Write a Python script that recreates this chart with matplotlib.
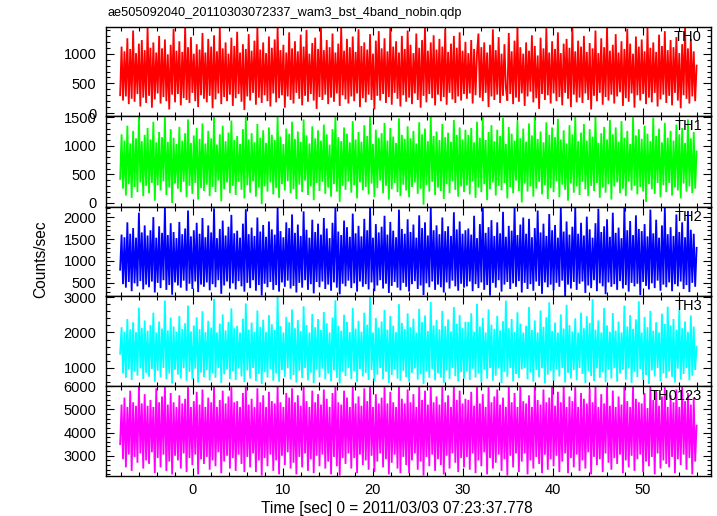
## light curves of the 4 WAM energy bands + their sum, one panel each
import numpy as np
import matplotlib
matplotlib.use('Agg')
import matplotlib.pyplot as plt
from matplotlib.ticker import MultipleLocator

plt.rcParams['font.family'] = ['Liberation Sans', 'DejaVu Sans']

title = 'ae505092040_20110303072337_wam3_bst_4band_nobin.qdp'
x_label = 'Time [sec] 0 = 2011/03/03 07:23:37.778'
y_label = 'Counts/sec'
t_start, t_stop = -8.1, 56.0   # first / last time bin (sec)

# counts/sec (troughs and peaks, in time order)
th0 = [300, 1120, 210, 1040, 280, 1260, 150, 1080, 240, 1390, 190, 1010, 320, 1170, 110, 1230, 260, 1060, 170, 1450,
       290, 1100, 90, 1190, 230, 1020, 330, 1300, 160, 1090, 270, 1240, 200, 990, 60, 1150, 310, 1420, 180, 1050,
       320, 1210, 130, 1030, 250, 1460, 220, 1110, 170, 1280, 340, 1000, 200, 1160, 100, 1070, 300, 1350, 240, 1020,
       180, 1250, 290, 1120, 80, 1310, 230, 1040, 330, 1440, 150, 1090, 270, 1190, 200, 1000, 310, 1270, 120, 1130,
       250, 1370, 320, 1020, 190, 1160, 50, 1080, 280, 1330, 210, 1050, 340, 1220, 140, 1450, 260, 1070, 170, 1190,
       300, 1010, 200, 1290, 110, 1100, 330, 1240, 180, 1460, 250, 1060, 300, 1150, 90, 1020, 280, 1360, 220, 1090,
       160, 1210, 340, 1040, 240, 1320, 130, 1120, 290, 1400, 190, 1000, 320, 1180, 210, 1270, 70, 1080, 270, 1440,
       220, 1060, 310, 1230, 150, 1110, 260, 1340, 190, 1020, 330, 1170, 120, 1450, 300, 1050, 230, 1250, 160, 1110,
       280, 1290, 200, 1030, 330, 1410, 100, 1130, 250, 1190, 180, 1070, 310, 1330, 220, 1000, 60, 1220, 290, 1380,
       210, 1090, 320, 1260, 170, 1040, 270, 1450, 140, 1120, 340, 1210, 240, 1020, 110, 1300, 300, 1080, 190, 1390,
       260, 1150, 150, 1010, 330, 1340, 220, 1100, 90, 1230, 290, 1460, 180, 1050, 320, 1190, 250, 1310, 130, 1070,
       310, 1250, 200, 1120, 270, 1420, 140, 1030, 340, 1170, 230, 1300, 170, 1100, 280, 1360, 210, 1050, 320, 1200,
       240, 1010, 330, 1230, 160, 1080, 300, 1000, 1340, 260, 1110, 200, 1190, 340, 1020, 100, 1150, 280, 1410, 220,
       1060, 310, 1280, 170, 1000, 290, 1160, 420, 210, 1350, 320, 1040, 150, 1220, 260, 1450, 190, 1110, 330, 1000,
       120, 1190, 280, 1050, 360, 1310, 180, 1130, 250, 970, 70, 1270, 320, 1090, 220, 1430, 300, 1020, 160, 1210,
       330, 1080, 200, 1360, 270, 1010, 130, 1170, 340, 1250, 240, 1100, 100, 1460, 310, 1040, 180, 1220, 260, 1120,
       170, 1300, 330, 1030, 220, 1180, 60, 1090, 290, 1390, 200, 1010, 340, 1260, 140, 1110, 270, 1450, 210, 1050,
       310, 1150, 160, 1330, 280, 1020, 350, 1210, 120, 1080, 250, 1420, 190, 1170, 330, 1000, 90, 1290, 300, 1120,
       210, 1240, 320, 1040, 150, 1440, 260, 1100, 180, 1190, 340, 1030, 110, 1320, 230, 1130, 310, 1380, 170, 1060,
       290, 1230, 130, 1110, 340, 1280, 210, 1010, 80, 1160, 300, 1440, 240, 1090, 160, 1250, 280, 1040, 200, 800]

th1 = [420, 1200, 250, 1090, 130, 1350, 330, 1040, 90, 1260, 280, 1130, 190, 1500, 360, 1080, 120, 1190, 300, 1310,
       170, 1110, 350, 1420, 40, 1060, 310, 1240, 220, 1150, 380, 1520, 140, 1070, 270, 1290, 0, 1140, 340, 1030,
       250, 1330, 190, 1090, 370, 1220, 100, 1460, 300, 1050, 160, 1180, 350, 1310, 60, 1120, 260, 1390, 210, 1040,
       320, 1260, 120, 1130, 280, 1500, 190, 1020, 390, 1200, 30, 1350, 240, 1080, 360, 1230, 170, 1440, 300, 1100,
       140, 1170, 370, 1030, 230, 1290, 80, 1510, 310, 1110, 180, 1220, 380, 1060, 110, 1380, 270, 1140, -20, 1270,
       290, 1050, 200, 1320, 360, 1190, 150, 1100, 260, 1520, 90, 1160, 330, 1030, 220, 1300, 380, 1210, 170, 1420,
       240, 1120, 70, 1250, 320, 1070, 190, 1460, 390, 1180, 140, 1040, 290, 1340, 50, 1130, 350, 1270, 210, 1090,
       370, 1370, 160, 1200, 270, 1020, 110, 1290, 330, 1510, 200, 1150, 20, 1080, 300, 1320, 230, 1210, 380, 1060,
       180, 1430, 310, 1110, 80, 1240, 360, 1070, 220, 1360, 280, 1170, 150, 1520, 340, 1030, 100, 1280, 260, 1140,
       390, 1220, 170, 1400, 300, 1090, 60, 1310, 240, 1160, 350, 1050, 190, 1480, 120, 1190, 320, 1120, 220, 1340,
       100, 1130, 280, 1260, 360, 1040, 160, 1410, 250, 1200, -30, 1300, 310, 1080, 200, 1520, 370, 1170, 140, 1250,
       270, 1100, 210, 1380, 70, 1150, 330, 1230, 170, 1070, 380, 1450, 230, 1190, 110, 1320, 290, 1110, 190, 1280,
       310, 1190, 150, 1310, 380, 1060, 90, 1420, 270, 1140, 190, 1500, 330, 1100, 50, 1240, 240, 1360, 360, 1080,
       130, 1280, 300, 1170, 220, 1490, 350, 1030, 80, 1330, 280, 1210, 170, 1090, 390, 1440, 210, 1130, 10, 1300,
       340, 1070, 200, 1390, 290, 1180, 110, 1520, 250, 1120, 370, 1250, 150, 1060, 310, 1410, 70, 1190, 260, 1320,
       190, 1150, 380, 1470, 100, 1110, 320, 1270, 230, 1040, 40, 1360, 340, 1200, 180, 1510, 290, 1080, 140, 1230,
       370, 1380, 240, 1090, 120, 1290, 300, 1160, 210, 1520, 350, 1050, 90, 1220, 270, 1330, 180, 1110, 330, 1450,
       60, 1200, 290, 1320, 360, 1070, 170, 1430, 250, 1140, 120, 1260, 380, 1030, 220, 1500, 300, 1180, 150, 1290,
       280, 1120, 200, 1350, 20, 1210, 330, 1080, 240, 1490, 160, 1170, 350, 1300, 100, 1060, 310, 1400, 190, 1140,
       350, 1260, 130, 1090, 270, 1370, 220, 1200, 80, 1310, 340, 1050, 200, 1460, 290, 1130, 170, 1240, 250, 900]

th2 = [800, 1600, 470, 1540, 390, 1880, 520, 1620, 310, 1750, 490, 1530, 420, 2100, 540, 1650, 350, 1810, 460, 1580,
       400, 1700, 530, 2000, 280, 1530, 500, 1790, 380, 1640, 560, 2230, 340, 1590, 450, 1860, 230, 1660, 510, 1520,
       440, 1890, 390, 1610, 550, 1740, 320, 2150, 480, 1560, 360, 1700, 530, 1870, 290, 1620, 460, 1980, 410, 1540,
       510, 1810, 330, 1650, 470, 2200, 400, 1520, 560, 1730, 250, 1920, 440, 1580, 530, 1780, 370, 2050, 490, 1630,
       350, 1690, 540, 1530, 420, 1850, 300, 2180, 500, 1610, 380, 1760, 560, 1570, 320, 1990, 450, 1670, 210, 1820,
       480, 1550, 400, 1900, 520, 1720, 340, 1600, 450, 2230, 300, 1680, 510, 1540, 410, 1880, 550, 1750, 370, 2060,
       430, 1640, 280, 1830, 500, 1570, 390, 2130, 560, 1710, 340, 1530, 470, 1940, 260, 1660, 520, 1850, 400, 1600,
       530, 1980, 360, 1740, 460, 1520, 320, 1870, 510, 2220, 390, 1670, 240, 1590, 480, 1920, 420, 1770, 550, 1550,
       380, 2080, 490, 1630, 300, 1800, 530, 1560, 410, 1960, 470, 1700, 350, 2230, 510, 1530, 310, 1840, 440, 1650,
       560, 1780, 370, 2030, 480, 1600, 270, 1890, 430, 1690, 520, 1540, 390, 2170, 330, 1730, 500, 1620, 410, 1950,
       300, 1660, 470, 1830, 540, 1530, 360, 2040, 440, 1750, 220, 1880, 490, 1580, 400, 2210, 530, 1700, 340, 1810,
       460, 1610, 400, 1990, 280, 1680, 510, 1790, 370, 1570, 550, 2110, 420, 1720, 320, 1900, 480, 1620, 390, 1700,
       420, 1740, 530, 1600, 310, 2030, 470, 1520, 380, 1840, 510, 2230, 340, 1640, 450, 1770, 210, 1930, 500, 1570,
       390, 1880, 560, 1630, 300, 2120, 460, 1550, 520, 1800, 360, 1690, 490, 2230, 410, 1590, 540, 1830, 280, 1990,
       500, 1620, 360, 1960, 470, 1540, 320, 1750, 530, 2150, 430, 1650, 250, 1850, 510, 1570, 400, 2070, 460, 1700,
       330, 1820, 500, 1530, 410, 2210, 550, 1670, 200, 1900, 460, 1600, 370, 1780, 520, 2230, 340, 1620, 480, 1870,
       530, 1580, 270, 2010, 440, 1720, 380, 1530, 560, 1860, 310, 2190, 490, 1660, 420, 1790, 240, 1950, 510, 1550,
       410, 2100, 470, 1640, 340, 1760, 540, 1520, 370, 2230, 450, 1700, 300, 1910, 500, 1590, 420, 2040, 480, 1730,
       220, 1680, 520, 1840, 430, 1560, 350, 2170, 490, 1630, 380, 1940, 550, 1530, 320, 1810, 460, 2230, 400, 1610,
       510, 1770, 310, 1570, 470, 2060, 420, 1660, 530, 1880, 360, 1540, 450, 2140, 290, 1710, 500, 1620, 410, 1300]

th3 = [1400, 2150, 850, 2020, 720, 2380, 960, 2090, 660, 2290, 900, 2010, 780, 2700, 990, 2130, 690, 2340, 860, 2050,
       750, 2210, 970, 2560, 600, 2000, 920, 2310, 730, 2110, 1000, 2900, 680, 2060, 840, 2420, 560, 2170, 950, 2020,
       810, 2470, 700, 2100, 990, 2260, 640, 2760, 890, 2030, 670, 2200, 980, 2430, 590, 2090, 870, 2600, 740, 2010,
       940, 2330, 650, 2140, 850, 2950, 720, 2000, 1000, 2250, 580, 2510, 820, 2060, 960, 2300, 690, 2680, 910, 2120,
       660, 2190, 990, 2000, 760, 2390, 600, 2820, 930, 2080, 700, 2280, 1000, 2020, 630, 2620, 830, 2160, 550, 2360,
       880, 2010, 730, 2490, 970, 2230, 640, 2070, 850, 3030, 610, 2180, 940, 2000, 750, 2440, 990, 2290, 680, 2650,
       800, 2120, 590, 2350, 920, 2040, 710, 2740, 1000, 2210, 650, 2000, 870, 2520, 570, 2150, 950, 2380, 730, 2070,
       980, 2580, 680, 2260, 840, 2000, 620, 2420, 930, 2910, 720, 2190, 560, 2050, 900, 2500, 770, 2300, 1000, 2010,
       690, 2690, 910, 2110, 600, 2330, 970, 2020, 760, 2560, 860, 2220, 660, 3000, 940, 2000, 630, 2410, 810, 2140,
       1000, 2310, 680, 2640, 890, 2080, 580, 2470, 800, 2190, 960, 2010, 700, 2800, 640, 2270, 920, 2100, 740, 2540,
       610, 2150, 860, 2390, 990, 2000, 670, 2670, 820, 2290, 550, 2480, 900, 2040, 720, 2860, 970, 2200, 650, 2350,
       850, 2090, 730, 2610, 580, 2180, 930, 2370, 690, 2030, 1000, 2720, 770, 2250, 620, 2490, 880, 2120, 700, 2300,
       910, 2300, 660, 2540, 980, 2020, 730, 2810, 850, 2170, 600, 2410, 950, 2000, 700, 2650, 1000, 2220, 640, 2100,
       780, 2470, 990, 2060, 570, 2320, 890, 2900, 750, 2120, 1000, 2380, 620, 2010, 830, 2570, 710, 2250, 960, 2000,
       1000, 2190, 680, 2720, 870, 2070, 610, 2340, 940, 2000, 730, 2620, 990, 2160, 560, 2430, 810, 2850, 920, 2040,
       640, 2280, 960, 2000, 760, 2510, 1000, 2110, 590, 2780, 860, 2210, 700, 2030, 940, 2400, 650, 2000, 1000, 2560,
       830, 2120, 570, 2460, 910, 2270, 770, 2940, 630, 2080, 990, 2340, 720, 2000, 880, 2690, 600, 2200, 950, 2020,
       700, 2550, 1000, 2050, 610, 2310, 840, 2000, 950, 2760, 670, 2170, 990, 2490, 580, 2100, 890, 2370, 740, 2880,
       970, 2000, 660, 2440, 800, 2150, 550, 2610, 930, 2050, 760, 2290, 1000, 2000, 630, 2530, 850, 2240, 710, 2730,
       900, 2200, 750, 2380, 590, 2080, 980, 2640, 670, 2120, 830, 2310, 1000, 2020, 650, 2480, 780, 2170, 940, 1600]

th0123 = [3500, 5200, 2850, 5500, 2500, 5100, 3050, 5800, 2350, 5300, 2950, 5150, 2700, 6000, 3100, 5250, 2450, 5650, 2800, 5150,
          2650, 5400, 3150, 5100, 2250, 5900, 2900, 5300, 2500, 5550, 3050, 6000, 2350, 5200, 2750, 5700, 2200, 5300, 3000, 5100,
          2800, 5600, 2450, 5250, 3100, 5450, 2300, 5950, 2900, 5100, 2600, 5350, 3050, 5750, 2200, 5200, 2850, 5850, 2650, 5100,
          2950, 5500, 2400, 5300, 2800, 6000, 2550, 5100, 3150, 5400, 2250, 5800, 2750, 5250, 3000, 5550, 2450, 5950, 2900, 5300,
          2350, 5350, 3050, 5100, 2650, 5700, 2300, 6000, 2950, 5200, 2500, 5450, 3100, 5100, 2300, 5900, 2800, 5300, 2150, 5600,
          2900, 5100, 2550, 5750, 3050, 5350, 2350, 5250, 2800, 6000, 2200, 5300, 3000, 5100, 2600, 5700, 3150, 5500, 2450, 5900,
          2700, 5300, 2200, 5600, 2950, 5150, 2500, 6000, 3100, 5350, 2350, 5100, 2850, 5800, 2250, 5300, 3000, 5650, 2550, 5200,
          3050, 5850, 2450, 5450, 2750, 5100, 2200, 5700, 2950, 6000, 2550, 5300, 2150, 5200, 2900, 5800, 2650, 5500, 3100, 5100,
          2450, 6000, 2900, 5250, 2250, 5550, 3050, 5150, 2600, 5900, 2800, 5350, 2400, 6000, 3000, 5100, 2300, 5650, 2750, 5250,
          3100, 5500, 2500, 5950, 2850, 5250, 2200, 5750, 2700, 5300, 3050, 5100, 2450, 6000, 2250, 5450, 2950, 5250, 2600, 5850,
          2250, 5300, 2800, 5650, 3100, 5100, 2400, 6000, 2750, 5400, 2150, 5800, 2950, 5200, 2550, 6000, 3050, 5300, 2350, 5550,
          2850, 5200, 2600, 5950, 2200, 5300, 3000, 5600, 2450, 5100, 3100, 6000, 2700, 5400, 2300, 5800, 2900, 5250, 2500, 5450,
          2950, 5400, 2400, 5750, 3100, 5150, 2250, 6000, 2800, 5250, 2550, 5650, 3150, 5100, 2200, 5950, 2900, 5300, 2450, 5550,
          2700, 5850, 3050, 5200, 2350, 5500, 2850, 5100, 2150, 6000, 3000, 5300, 2500, 5700, 3100, 5100, 2300, 6000, 2750, 5350,
          3100, 5250, 2200, 5600, 2800, 5100, 2450, 6000, 2950, 5400, 2650, 5200, 2250, 5850, 3050, 5300, 2400, 5500, 2850, 6000,
          2550, 5150, 3000, 5750, 2300, 5300, 2750, 6000, 3100, 5100, 2250, 5550, 2900, 5350, 2500, 5950, 3050, 5100, 2350, 5700,
          2800, 5450, 2450, 5250, 3150, 5900, 2200, 5300, 2950, 6000, 2600, 5100, 2850, 5650, 2300, 5250, 3100, 6000, 2700, 5150,
          2400, 5800, 2900, 5100, 2650, 5550, 3050, 5200, 2250, 6000, 2800, 5350, 2500, 5100, 3000, 6000, 2350, 5450, 2850, 5300,
          3050, 5250, 2300, 5700, 2750, 5050, 2550, 6000, 2950, 5400, 2200, 5800, 3100, 5150, 2450, 5550, 2800, 5950, 2650, 5100,
          2500, 5600, 2950, 5300, 2250, 5850, 2850, 5100, 2600, 6000, 3050, 5350, 2400, 5700, 2900, 5200, 2200, 5500, 2750, 4300]

bands = ['TH0', 'TH1', 'TH2', 'TH3', 'TH0123']
curves = [th0, th1, th2, th3, th0123]
colors = ['#ff0000', '#00ff00', '#0000ff', '#00ffff', '#ff00ff']
y_ranges = [(-50, 1450), (-70, 1520), (200, 2230), (490, 3030), (2130, 6000)]
y_major = [500, 500, 500, 1000, 1000]
y_minor = [100, 100, 100, 200, 200]

W, H = 717, 516
fig = plt.figure(figsize=(W / 100, H / 100), dpi=100)

# panel edges in pixels, top to bottom
edges = [27, 116, 207, 296, 386, 476]
left, right = 106, 711

axes = []
for i in range(5):
    top, bottom = edges[i], edges[i + 1]
    ax = fig.add_axes([left / W, 1 - bottom / H, (right - left) / W, (bottom - top) / H])
    t = np.linspace(t_start, t_stop, len(curves[i]))
    ax.plot(t, curves[i], color=colors[i], lw=1.3, solid_joinstyle='miter')
    ax.set_xlim(-9.67, 57.6)
    ax.set_ylim(*y_ranges[i])
    ax.xaxis.set_major_locator(MultipleLocator(10))
    ax.xaxis.set_minor_locator(MultipleLocator(2))
    ax.yaxis.set_major_locator(MultipleLocator(y_major[i]))
    ax.yaxis.set_minor_locator(MultipleLocator(y_minor[i]))
    ax.tick_params(which='both', direction='in', top=True, right=True, labelsize=10.5)
    ax.tick_params(which='major', length=6, width=0.8, pad=7)
    ax.tick_params(which='minor', length=3, width=0.8)
    ax.tick_params(axis='x', pad=5)
    if i < 4:
        ax.tick_params(labelbottom=False)
    for s in ax.spines.values():
        s.set_linewidth(1.0)
    ax.text(0.985, 0.97, bands[i], transform=ax.transAxes, ha='right', va='top', fontsize=10.5)
    axes.append(ax)

fig.text(397 / W, 1 - 508 / H, x_label, ha='center', va='center', fontsize=11.2)
fig.text(41 / W, 1 - 259 / H, y_label, rotation=90, ha='center', va='center', fontsize=11.2)
fig.text(107 / W, 1 - 13 / H, title, ha='left', va='center', fontsize=9.2)

plt.savefig('out.png', dpi=100)
